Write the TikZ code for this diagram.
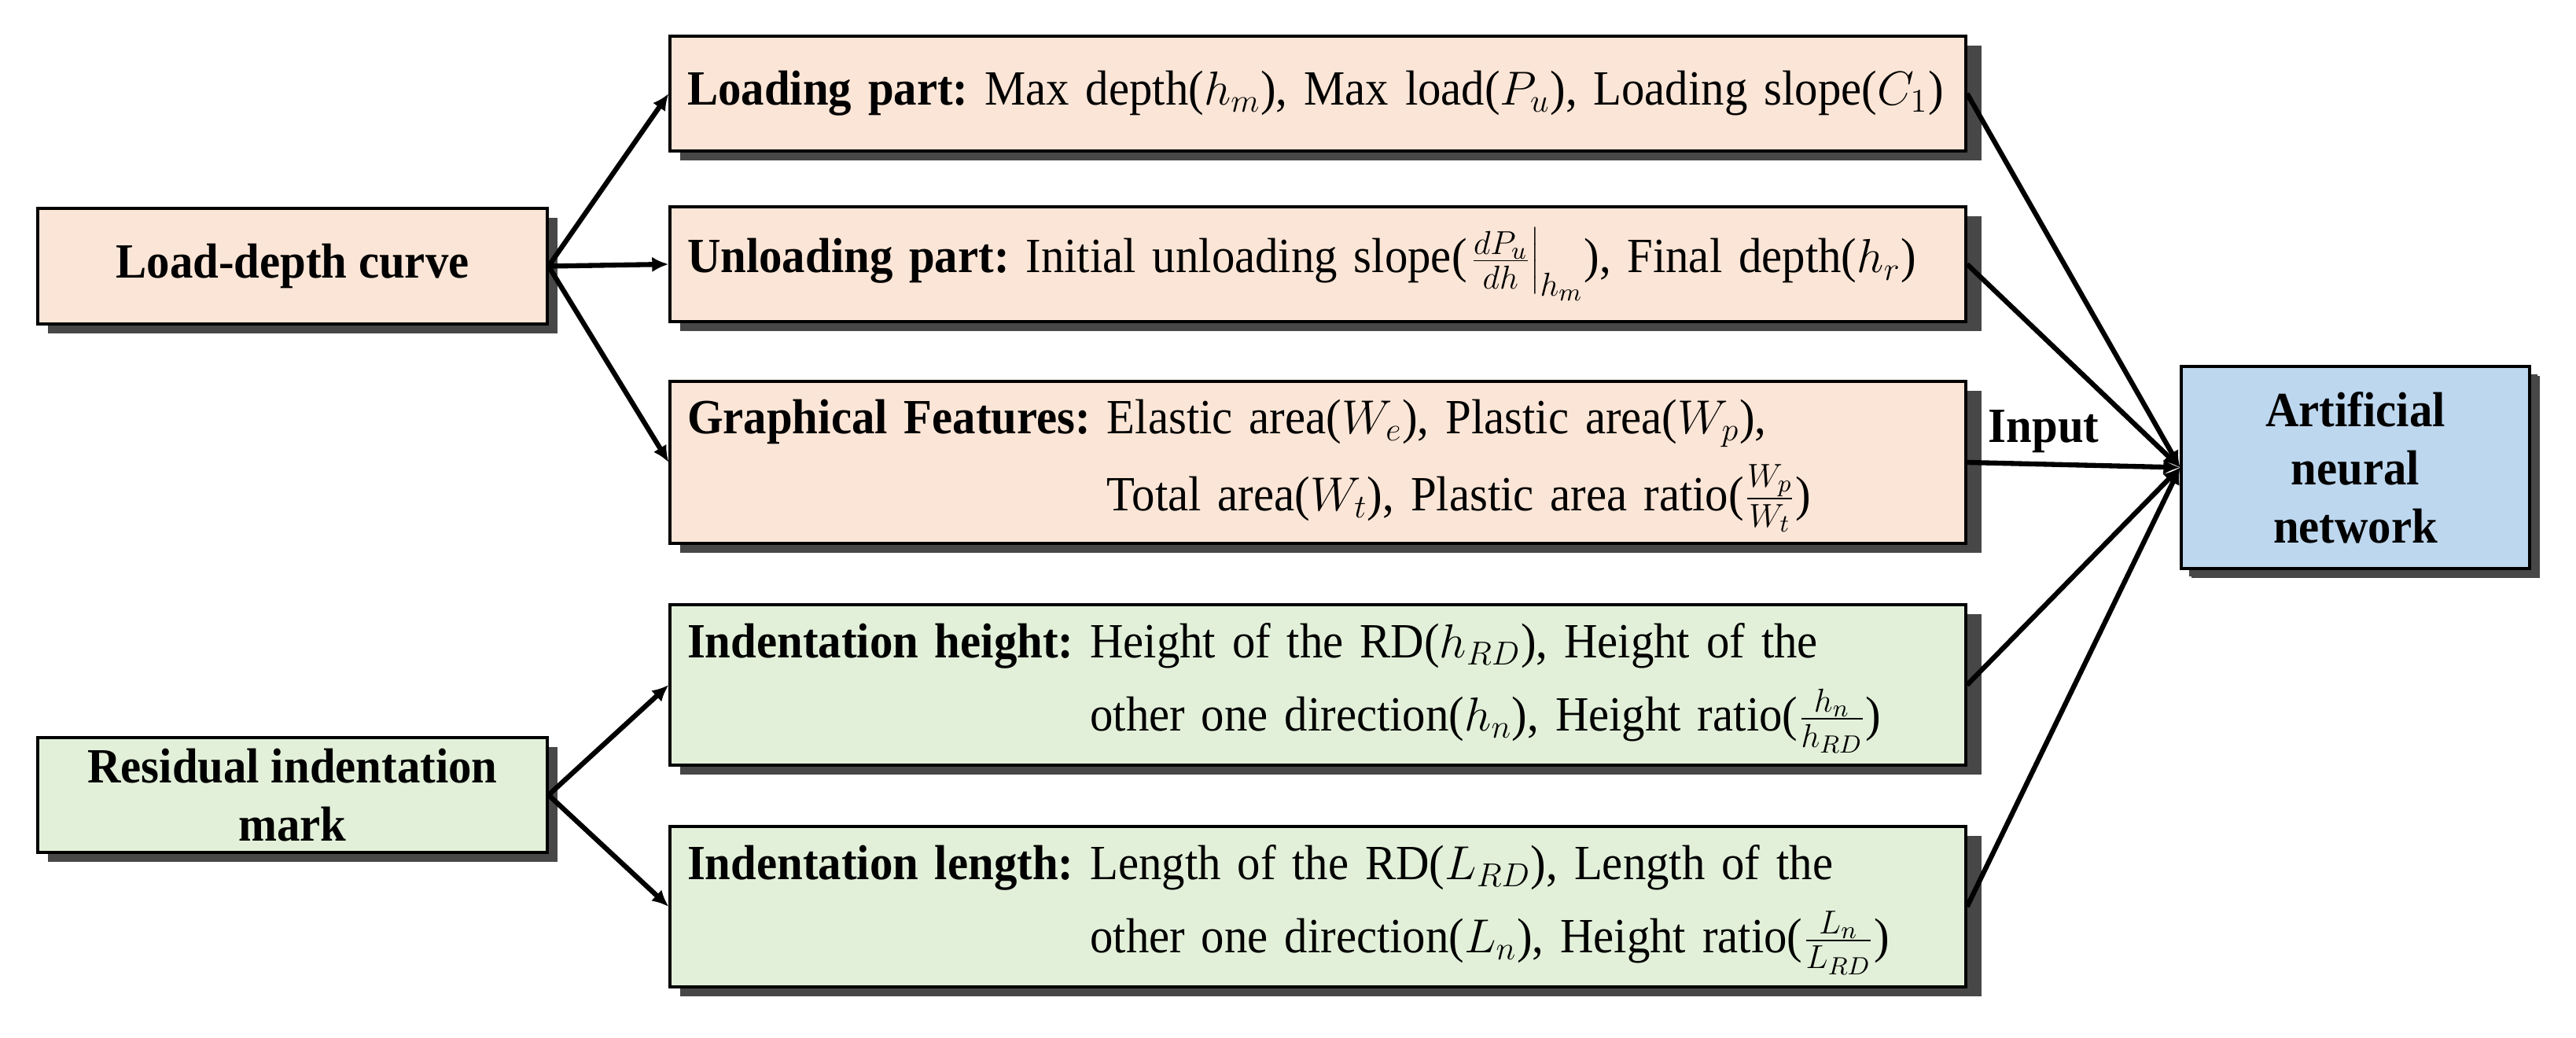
\documentclass[tikz,border=0pt]{standalone}
\usepackage{fontspec}
\setmainfont{Liberation Serif}[FakeStretch=0.94]
\usetikzlibrary{arrows.meta,shadows}
\definecolor{peach}{HTML}{FBE5D6}
\definecolor{leaf}{HTML}{E2F0D9}
\definecolor{sky}{HTML}{BDD7EE}
\newcommand{\boxfont}{\fontsize{17.8}{21}\selectfont\frenchspacing}

\begin{document}
\begin{tikzpicture}[line width=1.8pt,
    >={Latex[length=6pt,width=5.5pt]}]
    % style of boxes
    \tikzset{boxstyle/.style={draw=black,line width=0.9pt,font=\boxfont,
        drop shadow={shadow xshift=0.13cm,shadow yshift=-0.12cm,opacity=1,fill=black!72}},
      sourcebox/.style={boxstyle,minimum width=6.48cm,minimum height=1.47cm,align=center,inner sep=0pt},
      featbox/.style={boxstyle,inner xsep=0.22cm,inner ysep=0pt,text width=16.04cm,align=left,
        drop shadow={shadow xshift=0.2cm,shadow yshift=-0.12cm,opacity=1,fill=black!72}}}
    \useasboundingbox (0,0) rectangle (32.76,-13.2);
    % sources
    \node[sourcebox,fill=peach] (curve) at (3.72,-3.385) {\textbf{Load-depth curve}};
    \node[sourcebox,fill=leaf,minimum height=1.46cm] (residual) at (3.72,-10.11)
      {\textbf{Residual indentation}\\\textbf{mark}};
    % features of the curve
    \node[featbox,fill=peach,minimum height=1.46cm] (loading) at (16.76,-1.19)
      {\textbf{Loading part:} Max depth($h_m$), Max load($P_u$), Loading slope($C_1$)};
    \node[featbox,fill=peach,minimum height=1.46cm] (unloading) at (16.76,-3.36)
      {\textbf{Unloading part:} Initial unloading slope($\left.\frac{dP_u}{dh}\right|_{h_m}$), Final depth($h_r$)};
    \node[featbox,fill=peach,minimum height=2.06cm] (graphical) at (16.76,-5.88)
      {\begin{tabular}{@{}l@{ }l@{}}
        \textbf{Graphical Features:} & Elastic area($W_e$), Plastic area($W_p$),\\[5pt]
        & Total area($W_t$), Plastic area ratio($\frac{W_p}{W_t}$)
      \end{tabular}};
    % features of the mark
    \node[featbox,fill=leaf,minimum height=2.04cm] (height) at (16.76,-8.71)
      {\begin{tabular}{@{}l@{ }l@{}}
        \textbf{Indentation height:} & Height of the RD($h_{RD}$), Height of the\\[5pt]
        & other one direction($h_n$), Height ratio($\frac{h_n}{h_{RD}}$)
      \end{tabular}};
    \node[featbox,fill=leaf,minimum height=2.04cm] (length) at (16.76,-11.53)
      {\begin{tabular}{@{}l@{ }l@{}}
        \textbf{Indentation length:} & Length of the RD($L_{RD}$), Length of the\\[5pt]
        & other one direction($L_n$), Height ratio($\frac{L_n}{L_{RD}}$)
      \end{tabular}};
    % network
    \node[boxstyle,fill=sky,minimum width=4.43cm,minimum height=2.57cm,align=center,
      drop shadow={shadow xshift=0.1cm,shadow yshift=-0.1cm,opacity=1,fill=black!72}] (ann) at (29.955,-5.945)
      {\textbf{Artificial}\\\textbf{neural}\\\textbf{network}};
    % arrows from the sources
    \draw[->] (curve.east) -- (loading.west);
    \draw[->] (curve.east) -- (unloading.west);
    \draw[->] (curve.east) -- (graphical.west);
    \draw[->] (residual.east) -- (height.west);
    \draw[->] (residual.east) -- (length.west);
    % arrows into the network
    \draw[->] (loading.east) -- (ann.west);
    \draw[->] (unloading.east) -- (ann.west);
    \draw[->] (graphical.east) -- node[above,pos=0.36,font=\boxfont\bfseries] (input) {Input} (ann.west);
    \draw[->] (height.east) -- (ann.west);
    \draw[->] (length.east) -- (ann.west);
\end{tikzpicture}
\end{document}
